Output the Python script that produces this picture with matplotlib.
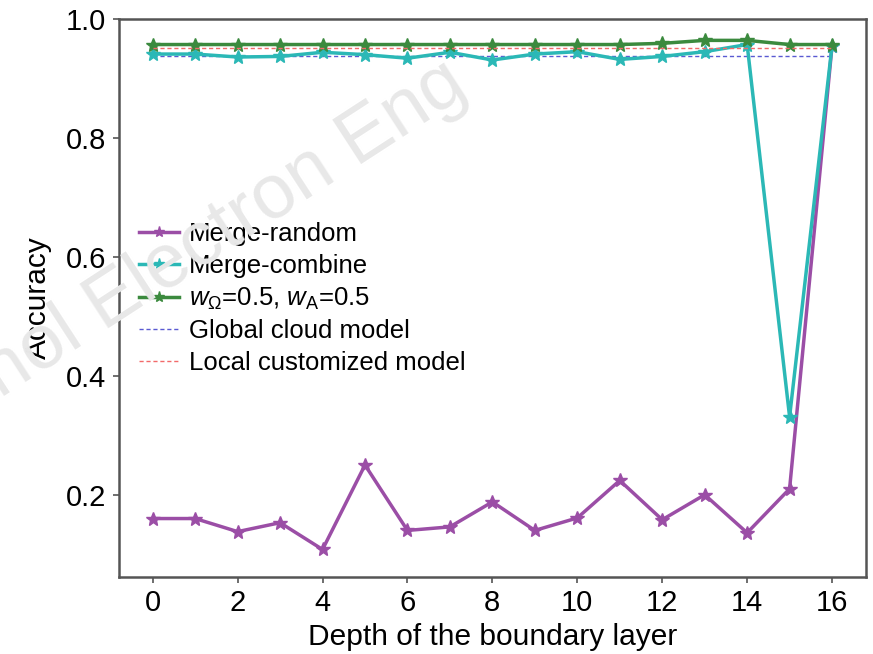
import matplotlib
matplotlib.use("Agg")
import matplotlib.pyplot as plt

plt.rcParams['font.family'] = ['Liberation Sans', 'DejaVu Sans']
plt.rcParams['mathtext.fontset'] = 'custom'
plt.rcParams['mathtext.rm'] = 'Liberation Sans'
plt.rcParams['mathtext.it'] = 'Liberation Sans:italic'

# Datos
capas = list(range(17))
merge_random = [0.160, 0.160, 0.138, 0.153, 0.108, 0.250, 0.140, 0.146, 0.188,
                0.140, 0.161, 0.224, 0.158, 0.200, 0.136, 0.210, 0.955]
merge_combine = [0.941, 0.941, 0.936, 0.937, 0.944, 0.940, 0.934, 0.944, 0.931,
                 0.941, 0.945, 0.932, 0.937, 0.945, 0.957, 0.331, 0.955]
w_mitad = [0.957, 0.957, 0.957, 0.957, 0.957, 0.957, 0.957, 0.957, 0.957,
           0.957, 0.957, 0.957, 0.959, 0.964, 0.964, 0.957, 0.957]
global_nube = 0.937
local_modelo = 0.952

fig = plt.figure(figsize=(8.73, 6.54), dpi=100)
ax = fig.add_axes([0.136, 0.118, 0.856, 0.853])

# marca de agua
fig.text(0.0, 0.39, "nol Electron Eng", fontsize=55, color='#e8e8e8',
         rotation=33, rotation_mode='anchor', ha='left', va='baseline', zorder=0)

ax.plot(capas, merge_random, color='#9b4ea6', lw=2.5, marker='*', ms=10,
        label='Merge-random', zorder=3)
ax.plot(capas, merge_combine, color='#2bb8b6', lw=2.5, marker='*', ms=10,
        label='Merge-combine', zorder=4)
ax.plot(capas, w_mitad, color='#3b8a3e', lw=2.5, marker='*', ms=10,
        label=r'$w_{\Omega}$=0.5, $w_{\mathrm{A}}$=0.5', zorder=5)
ax.plot([capas[0], capas[-1]], [global_nube, global_nube], color='#5a5ad2', lw=1,
        ls=(0, (3, 2)), label='Global cloud model', zorder=2)
ax.plot([capas[0], capas[-1]], [local_modelo, local_modelo], color='#f26a6a', lw=1,
        ls=(0, (3, 2)), label='Local customized model', zorder=6)

ax.set_xlim(-0.8, 16.8)
ax.set_ylim(0.062, 1.0)
ax.set_xticks(range(0, 17, 2))
ax.set_yticks([0.2, 0.4, 0.6, 0.8, 1.0])
ax.tick_params(labelsize=21, direction='out', length=4, width=1.2, color='#555555', pad=5)
for s in ax.spines.values():
    s.set_color('#555555')
    s.set_linewidth(1.8)

ax.set_xlabel('Depth of the boundary layer', fontsize=21.5, labelpad=4)
ax.set_ylabel('Accuracy', fontsize=21.5, labelpad=10)

ax.legend(loc='upper left', bbox_to_anchor=(0.003, 0.668), frameon=False, fontsize=18.5,
          handlelength=1.55, handletextpad=0.4, labelspacing=0.3, borderaxespad=0.3,
          markerscale=0.8)

fig.savefig('out.png', dpi=100)
